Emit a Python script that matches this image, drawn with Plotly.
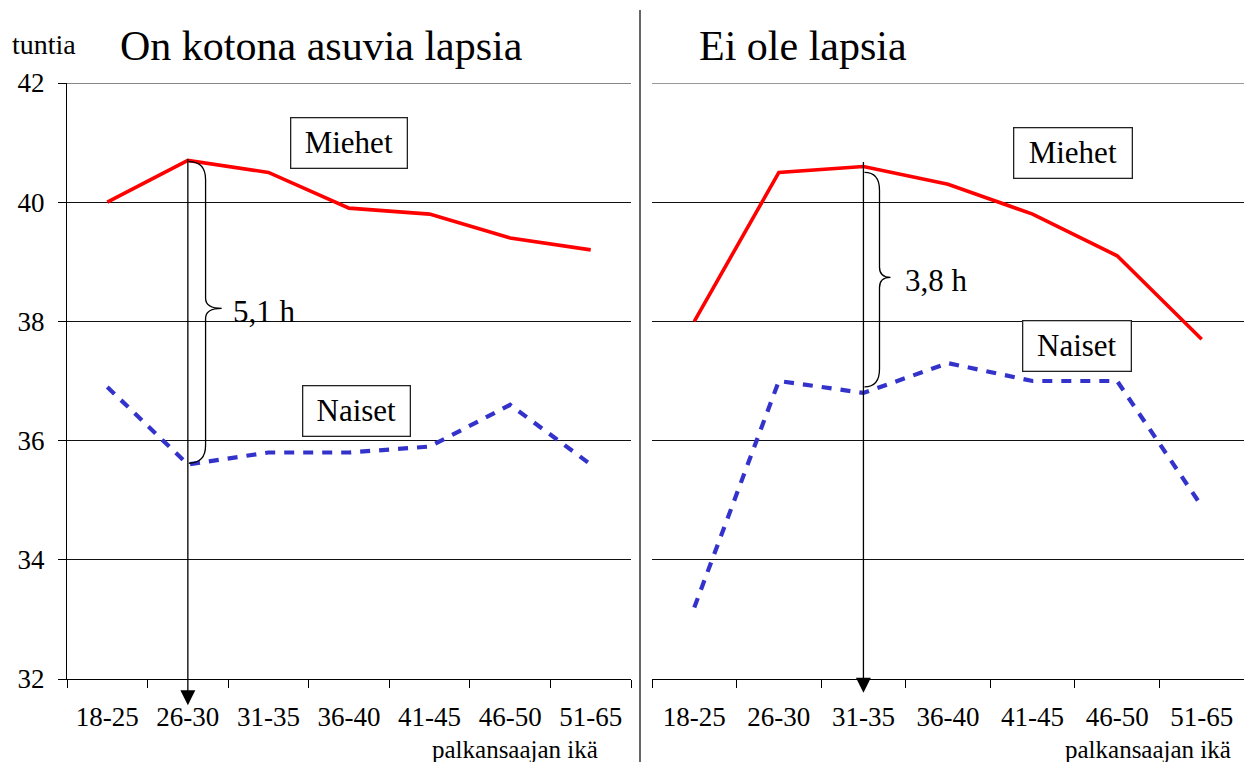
import plotly.graph_objects as go

# ---------------- data ----------------
age_groups = ["18-25", "26-30", "31-35", "36-40", "41-45", "46-50", "51-65"]

# On kotona asuvia lapsia (children living at home)
kids_men = [40.0, 40.7, 40.5, 39.9, 39.8, 39.4, 39.2]
kids_women = [36.9, 35.6, 35.8, 35.8, 35.9, 36.6, 35.6]

# Ei ole lapsia (no children)
nokids_men = [38.0, 40.5, 40.6, 40.3, 39.8, 39.1, 37.7]
nokids_women = [33.2, 37.0, 36.8, 37.3, 37.0, 37.0, 34.9]

y_ticks = [32, 34, 36, 38, 40, 42]
panel_titles = ["On kotona asuvia lapsia", "Ei ole lapsia"]
y_unit = "tuntia"
x_unit = "palkansaajan ikä"
series_names = ["Miehet", "Naiset"]

# index of the age group where the gap is highlighted in each panel
gap_idx = [1, 2]

# ---------------- styling ----------------
FONT = "Liberation Serif"
RED = "#FF0000"
BLUE = "#3333CC"
W, H = 1244, 762
ML, MR, MT, MB = 0, 0, 83, 83

fig = go.Figure()

panels = [
    (kids_men, kids_women, "x", "y"),
    (nokids_men, nokids_women, "x2", "y2"),
]
for men, women, xa, ya in panels:
    fig.add_trace(go.Scatter(x=age_groups, y=men, mode="lines", name=series_names[0],
                             line=dict(color=RED, width=3.6), xaxis=xa, yaxis=ya,
                             showlegend=False))
    fig.add_trace(go.Scatter(x=age_groups, y=women, mode="lines", name=series_names[1],
                             line=dict(color=BLUE, width=4.2, dash="10px,9px"), xaxis=xa, yaxis=ya,
                             showlegend=False))

xcommon = dict(type="category", categoryorder="array", categoryarray=age_groups,
               range=[-0.5, 6.5], tickson="boundaries", ticks="outside", ticklen=8,
               tickcolor="black", tickwidth=1.2, showline=True, linecolor="black", linewidth=1.2,
               showgrid=False, zeroline=False,
               tickfont=dict(family=FONT, size=27, color="black"), ticklabelstandoff=13)
ycommon = dict(range=[32, 42], tickvals=y_ticks, showgrid=True, gridcolor="#111111", gridwidth=1.2,
               zeroline=False, tickfont=dict(family=FONT, size=27, color="black"))

fig.update_layout(
    width=W, height=H,
    margin=dict(l=ML, r=MR, t=MT, b=MB),
    paper_bgcolor="white", plot_bgcolor="white",
    xaxis=dict(domain=[67 / W, 631 / W], anchor="y", **xcommon),
    yaxis=dict(domain=[0, 1], anchor="x", showline=True, linecolor="black", linewidth=1.2,
               ticks="outside", ticklen=8, tickcolor="black", tickwidth=1.2,
               ticklabelstandoff=8, **ycommon),
    xaxis2=dict(domain=[652 / W, 1.0], anchor="y2", **xcommon),
    yaxis2=dict(domain=[0, 1], anchor="x2", showline=False, showticklabels=False, ticks="", **ycommon),
)

def py(pixel_y):
    """pixel row -> paper y"""
    return (H - MB - pixel_y) / (H - MT - MB)

annotations = []
shapes = []

# separator line between panels
shapes.append(dict(type="line", xref="paper", yref="paper", x0=640 / W, x1=640 / W,
                   y0=py(10), y1=py(762), line=dict(color="#333333", width=1.5)))

# top gridline (at the top of the value range) for both panels
shapes.append(dict(type="line", xref="paper", yref="y", x0=60 / W, x1=631 / W,
                   y0=y_ticks[-1], y1=y_ticks[-1], line=dict(color="#111111", width=1.2)))
shapes.append(dict(type="line", xref="x2 domain", yref="y2", x0=0, x1=1,
                   y0=y_ticks[-1], y1=y_ticks[-1], line=dict(color="#333333", width=1.2)))

# y unit and titles
annotations.append(dict(text=y_unit, xref="paper", yref="paper", x=10 / W, y=py(45),
                        xanchor="left", yanchor="middle", showarrow=False,
                        font=dict(family=FONT, size=28, color="black")))
for title, xpix in zip(panel_titles, [118, 697]):
    annotations.append(dict(text=title, xref="paper", yref="paper", x=xpix / W, y=py(46),
                            xanchor="left", yanchor="middle", showarrow=False,
                            font=dict(family=FONT, size=42, color="black")))
for xpix in [430, 1063]:
    annotations.append(dict(text=x_unit, xref="paper", yref="paper", x=xpix / W, y=py(749),
                            xanchor="left", yanchor="middle", showarrow=False,
                            font=dict(family=FONT, size=25, color="black")))

# boxed series labels (x, y in data coords)
box_pos = {
    ("x", "y"): [(3.0, 41.0, 115), (3.09, 36.5, 106)],
    ("x2", "y2"): [(4.48, 40.82, 117), (4.53, 37.58, 107)],
}
for (xa, ya), items in box_pos.items():
    for name, (bx, by, bw) in zip(series_names, items):
        annotations.append(dict(text=name, xref=xa, yref=ya, x=bx, y=by, showarrow=False,
                                xanchor="center", yanchor="middle", width=bw, height=49,
                                bordercolor="#222222", borderwidth=1.3, borderpad=0,
                                bgcolor="white",
                                font=dict(family=FONT, size=31, color="black")))

# vertical arrows and braces showing the gap
brace_geom = [
    dict(w=0.22, tip=0.42, inset=0.02, lab=0.53, tipy=38.22, tail=0.05, head=31.56),
    dict(w=0.19, tip=0.32, inset=0.1, lab=0.47, tipy=38.74, tail=0.1, head=31.77),
]
for (men, women, xa, ya), gi, g in zip(panels, gap_idx, brace_geom):
    top = men[gi]
    bot = women[gi]
    # arrow
    annotations.append(dict(xref=xa, yref=ya, axref=xa, ayref=ya, x=gi, y=g["head"],
                            ax=gi, ay=top + g["tail"], showarrow=True, arrowhead=2,
                            arrowsize=2.3, arrowwidth=1.3, arrowcolor="black", text=""))
    # brace
    x0 = gi + 0.012
    x1 = gi + g["w"]
    x2 = gi + g["tip"]
    yt = top - g["inset"]
    yb = bot + g["inset"]
    ym = g["tipy"]
    r = 0.3
    rt = 0.17
    path = (f"M {x0},{yt} Q {x1},{yt} {x1},{yt - r} L {x1},{ym + rt} "
            f"Q {x1},{ym} {x2},{ym} Q {x1},{ym} {x1},{ym - rt} L {x1},{yb + r} "
            f"Q {x1},{yb} {x0},{yb}")
    shapes.append(dict(type="path", xref=xa, yref=ya, path=path,
                       line=dict(color="black", width=1.3)))
    gap = f"{top - bot:.1f}".replace(".", ",") + " h"
    annotations.append(dict(text=gap, xref=xa, yref=ya, x=gi + g["lab"], y=ym - 0.05,
                            xanchor="left", yanchor="middle", showarrow=False,
                            font=dict(family=FONT, size=31, color="black")))

fig.update_layout(annotations=annotations, shapes=shapes)

fig.write_html("out.html", config={"displayModeBar": False},
               post_script="document.body.style.margin='0';document.body.style.overflow='hidden';")
